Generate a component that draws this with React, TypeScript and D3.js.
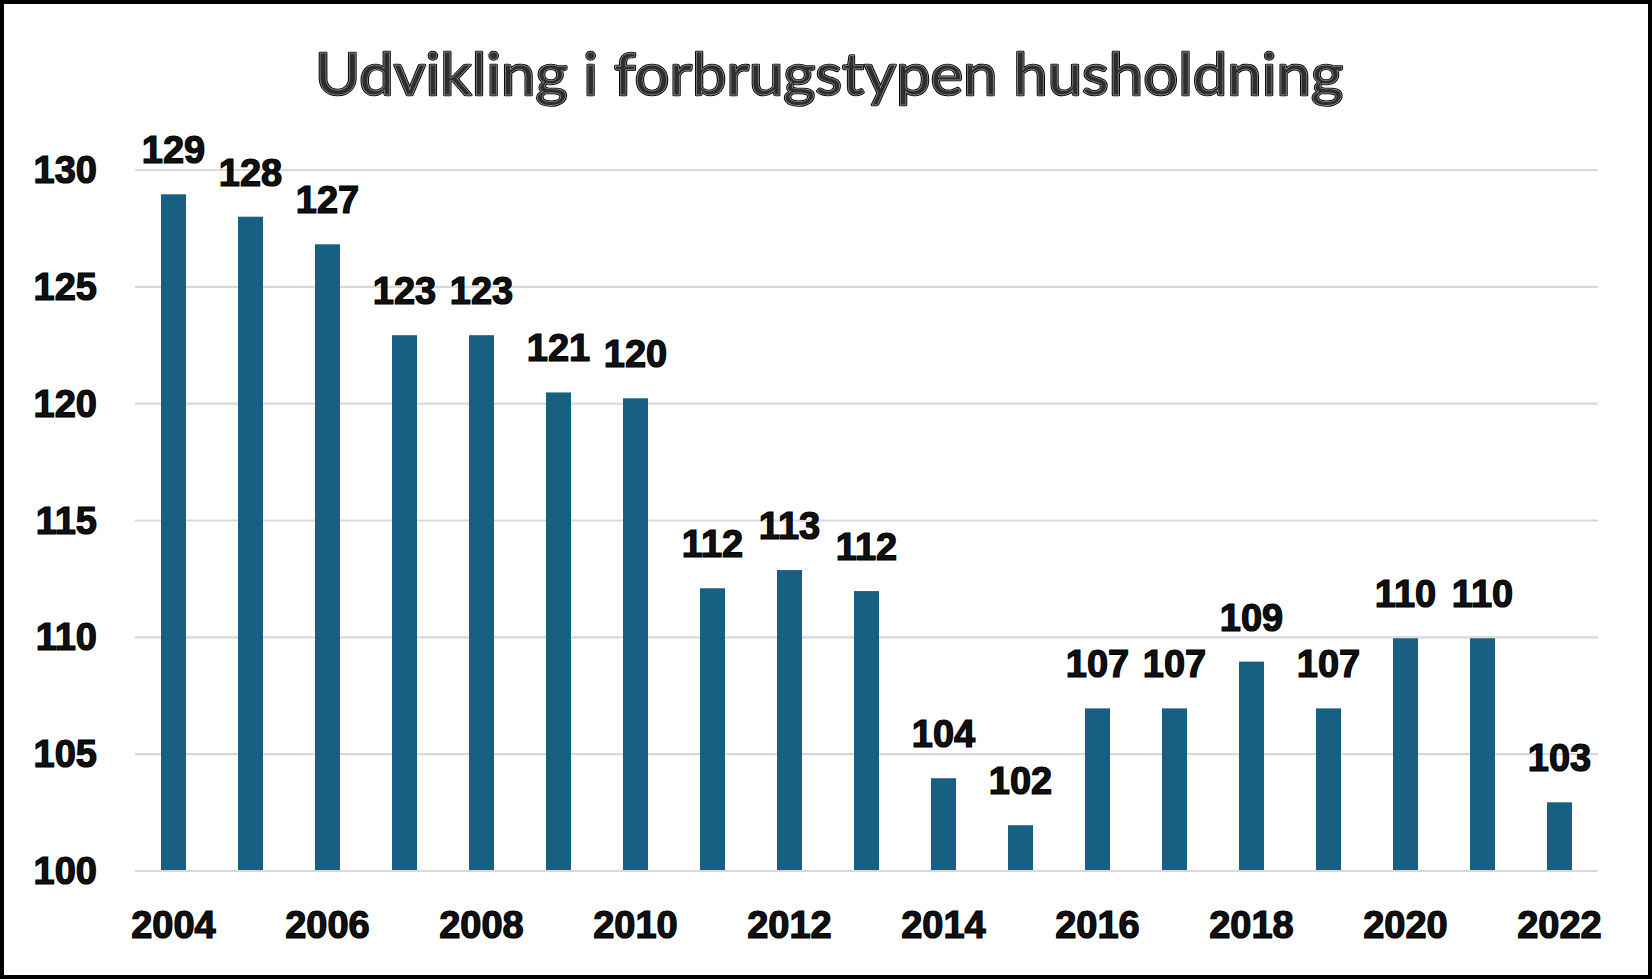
import React from "react";
import * as d3 from "d3";

const years = ["2004","2005","2006","2007","2008","2009","2010","2011","2012","2013","2014","2015","2016","2017","2018","2019","2020","2021","2022"];
const values = [128.96, 128.0, 126.82, 122.93, 122.93, 120.48, 120.23, 112.1, 112.88, 111.98, 103.97, 101.96, 106.96, 106.96, 108.96, 106.96, 109.96, 109.96, 102.94];
const labels = ["129","128","127","123","123","121","120","112","113","112","104","102","107","107","109","107","110","110","103"];
const yTicks = [100, 105, 110, 115, 120, 125, 130];
const xTickLabels = ["2004","2006","2008","2010","2012","2014","2016","2018","2020","2022"];
const title = "Udvikling i forbrugstypen husholdning";

const W = 1652, H = 979;
const plotL = 135, plotR = 1598, plotT = 170, plotB = 871;
const numFont = "'Liberation Sans', Arial, sans-serif";
const titleFont = "Lato, 'Noto Sans', sans-serif";

export default function App() {
  const x = d3.scaleBand<string>().domain(years).range([plotL, plotR]).paddingInner(0.675).paddingOuter(0.3375);
  const y = d3.scaleLinear().domain([100, 130]).range([plotB, plotT]);
  const bw = x.bandwidth();

  const numStyle = { fontFamily: numFont, fontWeight: 700, fontSize: 38 } as const;

  return (
    <div style={{ position: "absolute", left: 0, top: 0 }}>
      <svg width={W} height={H} viewBox={`0 0 ${W} ${H}`} style={{ display: "block" }}>
        <rect x={0} y={0} width={W} height={H} fill="#fff" />
        {/* gridlines */}
        {yTicks.map((t) => (
          <line key={t} x1={plotL} x2={plotR} y1={y(t)} y2={y(t)} stroke="#d9d9d9" strokeWidth={2.2} />
        ))}
        {/* bars */}
        {years.map((yr, i) => (
          <rect key={yr} x={x(yr)!} y={y(values[i])} width={bw} height={plotB - y(values[i]) - 1} fill="#176082" />
        ))}
        {/* data labels */}
        {years.map((yr, i) => (
          <text key={"l" + yr} x={x(yr)! + bw / 2} y={y(values[i]) - 31} textAnchor="middle" fill="#111" stroke="#000" strokeWidth={1.2} style={numStyle}>
            {labels[i]}
          </text>
        ))}
        {/* y axis labels */}
        {yTicks.map((t) => (
          <text key={"y" + t} x={97} y={y(t) + 13} textAnchor="end" fill="#111" stroke="#000" strokeWidth={1.2} style={numStyle}>
            {t}
          </text>
        ))}
        {/* x axis labels */}
        {xTickLabels.map((yr) => (
          <text key={"x" + yr} x={x(yr)! + bw / 2} y={938} textAnchor="middle" fill="#111" stroke="#000" strokeWidth={1.2} style={numStyle}>
            {yr}
          </text>
        ))}
        {/* title */}
        <text x={315} y={95} textLength={1028} lengthAdjust="spacingAndGlyphs" fill="#000" stroke="#000" strokeWidth={2.6} strokeLinejoin="round"
          style={{ fontFamily: titleFont, fontSize: 58, fontWeight: 400 }}>
          {title}
        </text>
        <text x={315} y={95} textLength={1028} lengthAdjust="spacingAndGlyphs" fill="#2e2e2e" stroke="#8a8a8a" strokeWidth={0.8}
          style={{ fontFamily: titleFont, fontSize: 58, fontWeight: 400 }}>
          {title}
        </text>
        {/* border */}
        <rect x={2} y={2} width={W - 4} height={H - 4} fill="none" stroke="#000" strokeWidth={4} />
      </svg>
    </div>
  );
}
